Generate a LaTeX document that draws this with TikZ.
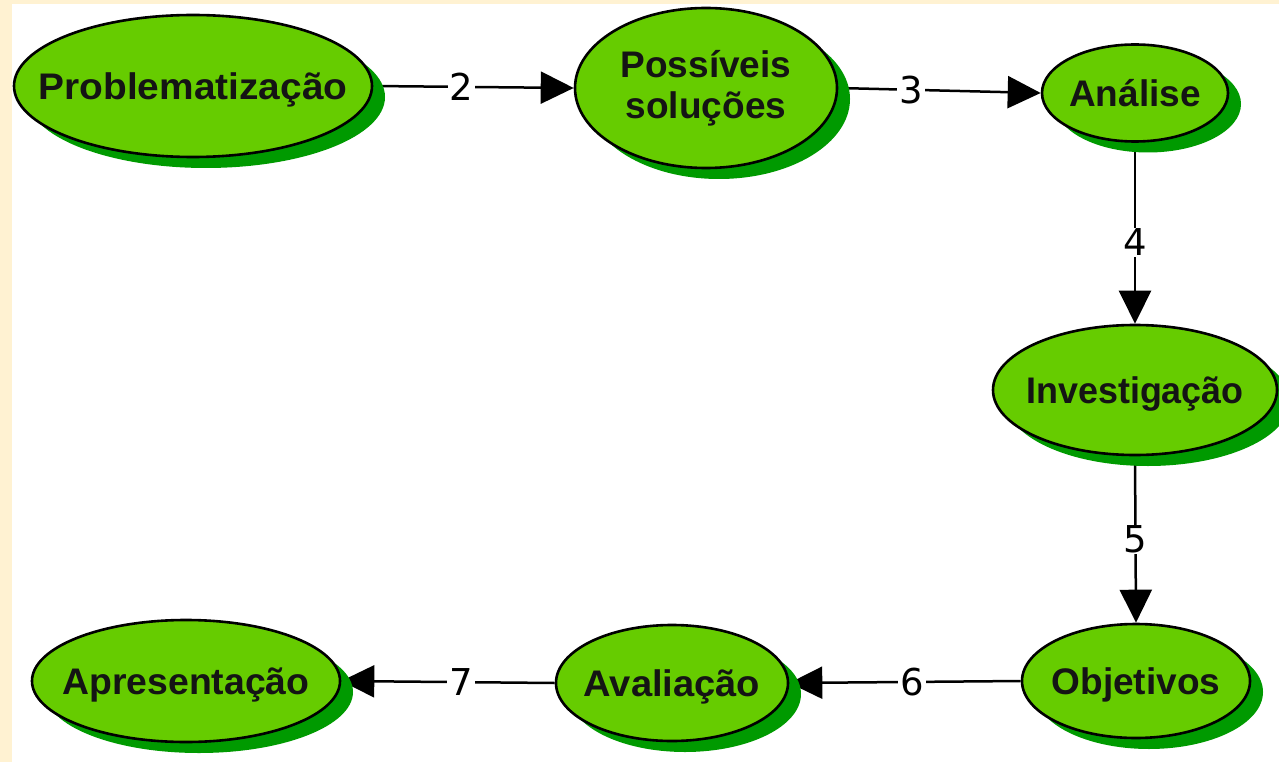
\documentclass[tikz,border=0pt]{standalone}
\usepackage{fontspec}
\setmainfont{Liberation Sans}
\newfontfamily\numfont{DejaVu Sans}
\usetikzlibrary{shapes.geometric,arrows.meta,shadows}
\definecolor{cream}{HTML}{FFF2D2}
\definecolor{nodegreen}{HTML}{66CC00}
\definecolor{shadowgreen}{HTML}{009A00}
\pgfdeclarelayer{back}
\pgfdeclarelayer{edges}
\pgfsetlayers{back,edges,main}
\newcommand\hsc[2]{\scalebox{#1}[1]{#2}}
\begin{document}
\begin{tikzpicture}[x=1pt,y=-1pt,
  ell/.style={ellipse, draw=black, line width=2.6pt, fill=nodegreen, inner sep=0pt,
    general shadow={shadow xshift=13pt, shadow yshift=-11pt, fill=shadowgreen}},
  txt/.style={font=\fontsize{37}{41}\selectfont\bfseries, text=black!92, inner sep=0pt, align=center},
  txtone/.style={txt, text height=27pt, text depth=0pt},
  conn/.style={line width=2.5pt, -{Triangle[length=33pt,width=32pt]}},
  num/.style={font=\numfont\fontsize{37}{40}\selectfont, fill=white, inner xsep=2pt, inner ysep=1pt}]
\useasboundingbox (0,0) rectangle (1279,762);
\begin{pgfonlayer}{back}
\fill[cream] (0,0) rectangle (1279,762);
\fill[white] (12,4) rectangle (1279,762);
\end{pgfonlayer}

\node[ell, minimum width=358pt, minimum height=142pt] (p) at (193,86) {};
\node[txtone] (pt) at (p) {\hsc{1.05}{Problematização}};

\node[ell, minimum width=262pt, minimum height=160pt] (s) at (706,88) {};
\node[txt] (st) at (s) {Possíveis\\soluções};

\node[ell, minimum width=186pt, minimum height=97pt] (a) at (1135,93) {};
\node[txtone] (at) at (a) {Análise};

\node[ell, minimum width=284pt, minimum height=130pt] (i) at (1135,390) {};
\node[txtone] (it) at (i) {\hsc{0.97}{Investigação}};

\node[ell, minimum width=228pt, minimum height=114pt] (o) at (1136,681) {};
\node[txtone] (ot) at (o) {Objetivos};

\node[ell, minimum width=232pt, minimum height=116pt] (v) at (672,683) {};
\node[txtone] (vt) at (v) {\hsc{1.03}{Avaliação}};

\node[ell, minimum width=308pt, minimum height=122pt] (r) at (186,681) {};
\node[txtone] (rt) at (r) {\hsc{1.01}{Apresentação}};

\begin{pgfonlayer}{edges}
\draw[conn] (p.east) -- node[num, pos=0.44] (n2) {2} (s.west);
\draw[conn] (s.east) -- node[num, pos=0.36] (n3) {3} (a.west);
\draw[conn] (a.south) -- node[num, pos=0.55] (n4) {4} (i.north);
\draw[conn] (i.south) -- node[num, pos=0.5] (n5) {5} (o.north);
\draw[conn] (o.west) -- node[num, pos=0.47] (n6) {6} (v.east);
\draw[conn] (v.west) -- node[num, pos=0.44] (n7) {7} (r.east);
\end{pgfonlayer}
\end{tikzpicture}
\end{document}
